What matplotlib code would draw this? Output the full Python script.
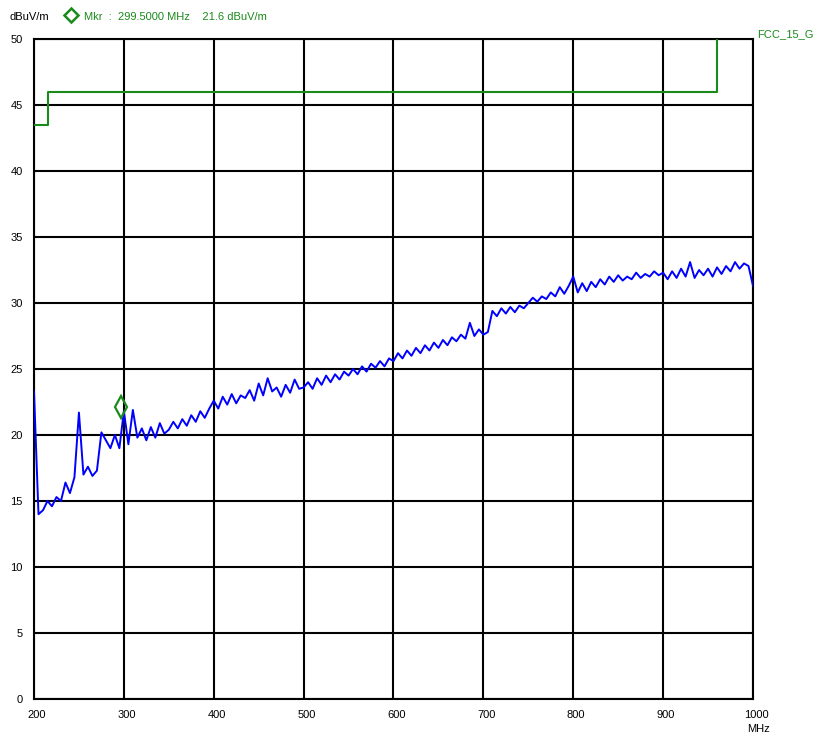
import numpy as np
import matplotlib
matplotlib.use("Agg")
import matplotlib.pyplot as plt
from matplotlib.lines import Line2D
import matplotlib.transforms as mtransforms

plt.rcParams['font.family'] = ['Liberation Sans', 'DejaVu Sans']

# ---- data ----
freq_start = 200
freq_step = 5
levels = [
    23.3, 14.0, 14.3, 15.0, 14.6, 15.3, 15.0, 16.4, 15.6, 16.8,
    21.7, 17.0, 17.6, 16.9, 17.3, 20.2, 19.6, 19.0, 20.0, 19.0,
    21.8, 19.3, 21.9, 19.8, 20.5, 19.6, 20.6, 19.8, 20.9, 20.1,
    20.4, 21.0, 20.5, 21.2, 20.7, 21.5, 21.0, 21.8, 21.3, 22.0,
    22.6, 22.0, 22.9, 22.3, 23.1, 22.4, 23.0, 22.8, 23.4, 22.6,
    23.9, 23.0, 24.3, 23.3, 23.6, 22.9, 23.8, 23.2, 24.2, 23.5,
    23.6, 24.0, 23.5, 24.3, 23.8, 24.5, 24.0, 24.6, 24.2, 24.8,
    24.5, 25.0, 24.6, 25.2, 24.8, 25.4, 25.1, 25.6, 25.2, 25.8,
    25.6, 26.2, 25.8, 26.4, 26.0, 26.6, 26.2, 26.8, 26.4, 27.0,
    26.6, 27.2, 26.8, 27.4, 27.1, 27.6, 27.3, 28.5, 27.5, 28.0,
    27.6, 27.8, 29.4, 29.0, 29.6, 29.2, 29.7, 29.3, 29.8, 29.6,
    30.0, 30.4, 30.1, 30.5, 30.3, 30.8, 30.5, 31.2, 30.7, 31.3,
    32.0, 30.8, 31.5, 30.9, 31.6, 31.2, 31.8, 31.4, 32.0, 31.6,
    32.1, 31.7, 32.0, 31.8, 32.3, 31.9, 32.2, 32.0, 32.4, 32.1,
    32.3, 31.8, 32.4, 31.9, 32.6, 32.0, 33.1, 31.9, 32.5, 32.1,
    32.6, 32.0, 32.7, 32.2, 32.8, 32.4, 33.1, 32.6, 33.0, 32.8,
    31.3,
]
freqs = [freq_start + freq_step * i for i in range(len(levels))]

limit_freqs = [200, 216, 216, 960, 960]
limit_levels = [43.5, 43.5, 46.0, 46.0, 54.0]
limit_name = "FCC_15_G"

marker_freq = 299.5
marker_level = 21.6

x_ticks = [200, 300, 400, 500, 600, 700, 800, 900, 1000]
y_ticks = [0, 5, 10, 15, 20, 25, 30, 35, 40, 45, 50]

GREEN = "#1a8a1a"
BLUE = "#0000ff"

fig = plt.figure(figsize=(8.14, 7.37), dpi=100)
ax = fig.add_axes([34/814, 1 - 699/737, (753-34)/814, (699-39)/737])

ax.set_xlim(200, 1000)
ax.set_ylim(0, 50)
ax.set_xticks(x_ticks)
ax.set_yticks(y_ticks)
ax.tick_params(length=0, labelsize=8, pad=8)
for lbl in ax.get_xticklabels():
    lbl.set_transform(lbl.get_transform() + mtransforms.ScaledTranslation(3/100, 0, fig.dpi_scale_trans))
ax.grid(True, color="black", linewidth=1.5)
ax.set_axisbelow(True)
for s in ax.spines.values():
    s.set_linewidth(1.5)
    s.set_color("black")

ax.plot(limit_freqs, limit_levels, color=GREEN, linewidth=1.5, clip_on=True, zorder=3)
ax.plot(freqs, levels, color=BLUE, linewidth=1.4, zorder=4)

off = mtransforms.offset_copy(ax.transData, fig=fig, x=-2, y=7, units='dots')
ax.plot([marker_freq], [marker_level], marker='d', markersize=11,
        markerfacecolor='none', markeredgecolor=GREEN, markeredgewidth=1.6,
        transform=off, zorder=5, clip_on=False)

# header texts
fig.text(10/814, 1 - 17/737, "dBuV/m", fontsize=8, color="black", va="center", ha="left")
fig.add_artist(Line2D([71/814], [1 - 15/737], marker='D', markersize=7,
                      markerfacecolor='none', markeredgecolor=GREEN,
                      markeredgewidth=1.8, transform=fig.transFigure))
fig.text(84/814, 1 - 17/737, "Mkr  :  299.5000 MHz    21.6 dBuV/m", fontsize=8,
         color=GREEN, va="center", ha="left")
fig.text(757/814, 1 - 34/737, limit_name, fontsize=8, color=GREEN, va="center", ha="left")
fig.text(759/814, 1 - 729/737, "MHz", fontsize=8, color="black", va="center", ha="center")

fig.savefig("out.png", dpi=100)
